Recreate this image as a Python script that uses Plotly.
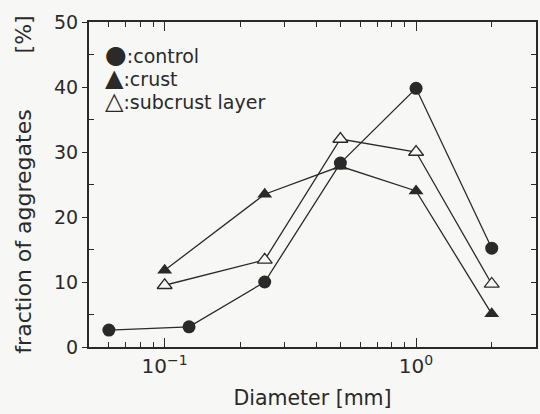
import math
import plotly.graph_objects as go

# ---- data ----
diam_control = [0.06, 0.125, 0.25, 0.5, 1.0, 2.0]
control = [2.6, 3.1, 10.0, 28.3, 39.8, 15.2]
diam_layers = [0.1, 0.25, 0.5, 1.0, 2.0]
crust = [11.8, 23.5, 27.8, 24.0, 5.1]
subcrust = [9.5, 13.4, 32.0, 30.0, 9.7]

x_tickvals = [0.1, 1]
x_ticktext = ["10<sup>−1</sup>", "10<sup>0</sup>"]
x_minor = [0.05, 0.06, 0.07, 0.08, 0.09, 0.2, 0.3, 0.4, 0.5, 0.6, 0.7, 0.8, 0.9, 2, 3]
y_tickvals = [0, 10, 20, 30, 40, 50]
y_minor = [5, 15, 25, 35, 45]
y_right = [5, 10, 15, 20, 25, 30, 35, 40, 45]

legend_symbols = ["●", "▲", "△"]
legend_symbol_sizes = [25, 24, 24]
legend_labels = [":control", ":crust", ":subcrust layer"]

ink = "#2a2a2a"
bg = "#f7f7f5"
font = "DejaVu Sans, Liberation Sans, sans-serif"

fig = go.Figure()
fig.add_trace(go.Scatter(x=diam_layers, y=crust, mode="lines+markers",
                         line=dict(color=ink, width=1.3),
                         marker=dict(symbol="triangle-up", size=13, color=ink),
                         showlegend=False))
fig.add_trace(go.Scatter(x=diam_layers, y=subcrust, mode="lines+markers",
                         line=dict(color=ink, width=1.3),
                         marker=dict(symbol="triangle-up", size=13, color=bg,
                                     line=dict(color=ink, width=1.3)),
                         showlegend=False))
fig.add_trace(go.Scatter(x=diam_control, y=control, mode="lines+markers",
                         line=dict(color=ink, width=1.3),
                         marker=dict(symbol="circle", size=13, color=ink),
                         showlegend=False))
# invisible trace to anchor right-side tick axis
fig.add_trace(go.Scatter(x=[0.1], y=[0], yaxis="y2", mode="markers",
                         marker=dict(opacity=0), showlegend=False, hoverinfo="skip"))

legend_lines = [
    f"<span style='font-size:{ssz}px'>{s}</span><span style='font-size:19px'>{t}</span>"
    for s, ssz, t in zip(legend_symbols, legend_symbol_sizes, legend_labels)
]
fig.add_annotation(x=0.0, y=41.5, xref="x domain", yref="y", xshift=14,
                   text="<br>".join(legend_lines), showarrow=False,
                   xanchor="left", yanchor="middle", align="left",
                   font=dict(family=font, size=17.7, color=ink))

ytitle = "fraction of aggregates" + "\u00a0" * 8 + "[%]"

fig.update_layout(
    width=540, height=414,
    margin=dict(l=89, r=2, t=22, b=67),
    paper_bgcolor=bg, plot_bgcolor=bg,
    font=dict(family=font, size=19, color=ink),
    xaxis=dict(type="log", range=[math.log10(0.05), math.log10(3)],
               tickmode="array", tickvals=x_tickvals, ticktext=x_ticktext,
               ticks="inside", ticklen=9, tickwidth=1.3, tickcolor=ink,
               minor=dict(tickmode="array", tickvals=x_minor, ticks="inside",
                          ticklen=5, tickwidth=1.2, tickcolor=ink),
               showline=True, linecolor=ink, linewidth=2, mirror="ticks",
               showgrid=False, zeroline=False,
               tickfont=dict(size=20, color=ink),
               title=dict(text="Diameter [mm]", font=dict(size=20.5, color=ink), standoff=14)),
    yaxis=dict(range=[0, 50], tickmode="array", tickvals=y_tickvals,
               ticks="outside", ticklen=5, tickwidth=1.3, tickcolor=ink,
               minor=dict(tickmode="array", tickvals=y_minor, ticks="inside",
                          ticklen=5, tickwidth=1.2, tickcolor=ink),
               showline=True, linecolor=ink, linewidth=2, mirror=True,
               showgrid=False, zeroline=False,
               tickfont=dict(size=19, color=ink),
               title=dict(text=ytitle, font=dict(size=22, color=ink), standoff=16)),
    yaxis2=dict(overlaying="y", side="right", range=[0, 50],
                tickmode="array", tickvals=y_right, ticks="inside",
                ticklen=5, tickwidth=1.2, tickcolor=ink, showticklabels=False,
                showline=True, linecolor=ink, linewidth=2,
                showgrid=False, zeroline=False),
)

fig.write_html("out.html")
